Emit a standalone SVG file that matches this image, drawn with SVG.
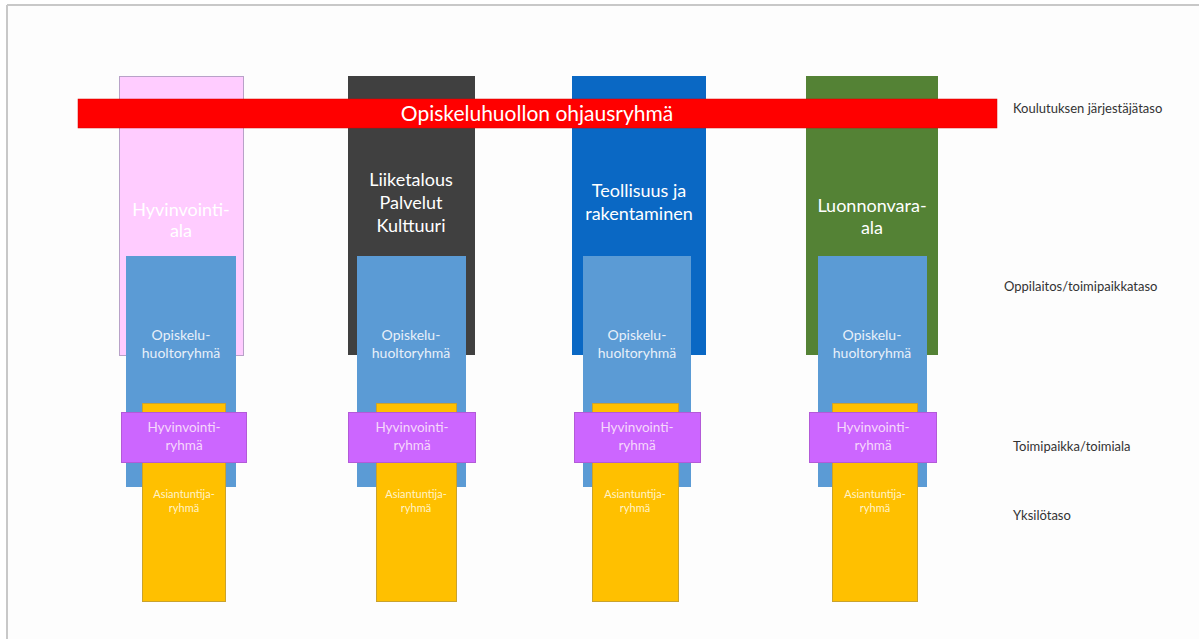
<svg xmlns="http://www.w3.org/2000/svg" width="1199" height="639" viewBox="0 0 1199 639">
<style>
  .t{font-family:Lato,"Open Sans","Liberation Sans",sans-serif;text-anchor:middle}
  .col{font-size:18px;fill:#ffffff}
  .oh{font-size:14px;fill:#e8f0fa}
  .hy{font-size:13.5px;fill:#f6d8fb}
  .as{font-size:11px;fill:#fff3c8}
  .lbl{font-family:Lato,"Open Sans","Liberation Sans",sans-serif;font-size:13px;fill:#333333}
  .ohr{fill:#5b9bd5}
  .asr{fill:#ffc000;stroke:#c9a22e;stroke-width:1}
  .hyr{fill:#cc66ff;stroke:#b35ad8;stroke-width:1}
</style>
<rect x="0" y="0" width="1199" height="639" fill="#ffffff"/>
<rect x="7" y="5" width="1192" height="634" fill="#fdfdfd"/>
<line x1="7" y1="5" x2="1199" y2="5" stroke="#c8c8c8" stroke-width="2"/>
<line x1="7" y1="5" x2="7" y2="639" stroke="#c8c8c8" stroke-width="2"/>

<g id="columns">
  <rect id="col-hyvinvointiala" x="119.5" y="76.5" width="124" height="279" fill="#ffccff" stroke="#b8a2c8" stroke-width="1"/>
  <rect id="col-liiketalous" x="348" y="76" width="127" height="279" fill="#404040"/>
  <rect id="col-teollisuus" x="572" y="76" width="134" height="279" fill="#0a68c4"/>
  <rect id="col-luonnonvara" x="806" y="76" width="132" height="279" fill="#548235"/>
</g>

<g id="ohjausryhma">
  <rect x="78" y="99" width="919" height="29" fill="#ff0000" stroke="#d40000" stroke-width="0.5"/>
  <text class="t" x="537" y="121" font-size="21" fill="#ffffff">Opiskeluhuollon ohjausryhmä</text>
</g>

<g id="column-titles">
  <text class="t col" x="181" y="216">Hyvinvointi-</text>
  <text class="t col" x="181" y="237">ala</text>
  <text class="t col" x="411" y="186">Liiketalous</text>
  <text class="t col" x="411" y="209">Palvelut</text>
  <text class="t col" x="411" y="232">Kulttuuri</text>
  <text class="t col" x="639" y="197">Teollisuus ja</text>
  <text class="t col" x="639" y="220">rakentaminen</text>
  <text class="t col" x="872" y="212">Luonnonvara-</text>
  <text class="t col" x="872" y="234">ala</text>
</g>

<g id="opiskeluhuoltoryhmat">
  <g id="ohr-1"><rect class="ohr" x="126" y="256" width="110" height="231"/></g>
  <g id="ohr-2"><rect class="ohr" x="357" y="256" width="109" height="231"/></g>
  <g id="ohr-3"><rect class="ohr" x="583" y="256" width="108" height="231"/></g>
  <g id="ohr-4"><rect class="ohr" x="818" y="256" width="109" height="231"/></g>
</g>

<g id="asiantuntijaryhmat">
  <g id="asr-1"><rect class="asr" x="142.5" y="403.5" width="83" height="198"/></g>
  <g id="asr-2"><rect class="asr" x="376.5" y="403.5" width="80" height="198"/></g>
  <g id="asr-3"><rect class="asr" x="592.5" y="403.5" width="86" height="198"/></g>
  <g id="asr-4"><rect class="asr" x="832.5" y="403.5" width="85" height="198"/></g>
</g>

<g id="hyvinvointiryhmat">
  <g id="hyr-1"><rect class="hyr" x="121.5" y="412.5" width="125" height="50"/></g>
  <g id="hyr-2"><rect class="hyr" x="348.5" y="412.5" width="127" height="50"/></g>
  <g id="hyr-3"><rect class="hyr" x="574.5" y="412.5" width="126" height="50"/></g>
  <g id="hyr-4"><rect class="hyr" x="809.5" y="412.5" width="127" height="50"/></g>
</g>

<g id="box-texts">
  <text class="t oh" x="181" y="340">Opiskelu-</text>
  <text class="t oh" x="181" y="358">huoltoryhmä</text>
  <text class="t oh" x="411" y="340">Opiskelu-</text>
  <text class="t oh" x="411" y="358">huoltoryhmä</text>
  <text class="t oh" x="637" y="340">Opiskelu-</text>
  <text class="t oh" x="637" y="358">huoltoryhmä</text>
  <text class="t oh" x="872" y="340">Opiskelu-</text>
  <text class="t oh" x="872" y="358">huoltoryhmä</text>

  <text class="t hy" x="184" y="432">Hyvinvointi-</text>
  <text class="t hy" x="184" y="450">ryhmä</text>
  <text class="t hy" x="412" y="432">Hyvinvointi-</text>
  <text class="t hy" x="412" y="450">ryhmä</text>
  <text class="t hy" x="637" y="432">Hyvinvointi-</text>
  <text class="t hy" x="637" y="450">ryhmä</text>
  <text class="t hy" x="873" y="432">Hyvinvointi-</text>
  <text class="t hy" x="873" y="450">ryhmä</text>

  <text class="t as" x="184" y="498">Asiantuntija-</text>
  <text class="t as" x="184" y="512">ryhmä</text>
  <text class="t as" x="416" y="498">Asiantuntija-</text>
  <text class="t as" x="416" y="512">ryhmä</text>
  <text class="t as" x="635" y="498">Asiantuntija-</text>
  <text class="t as" x="635" y="512">ryhmä</text>
  <text class="t as" x="875" y="498">Asiantuntija-</text>
  <text class="t as" x="875" y="512">ryhmä</text>
</g>

<g id="level-labels">
  <text class="lbl" x="1013" y="113">Koulutuksen järjestäjätaso</text>
  <text class="lbl" x="1004" y="291">Oppilaitos/toimipaikkataso</text>
  <text class="lbl" x="1013" y="451">Toimipaikka/toimiala</text>
  <text class="lbl" x="1013" y="520">Yksilötaso</text>
</g>
</svg>
